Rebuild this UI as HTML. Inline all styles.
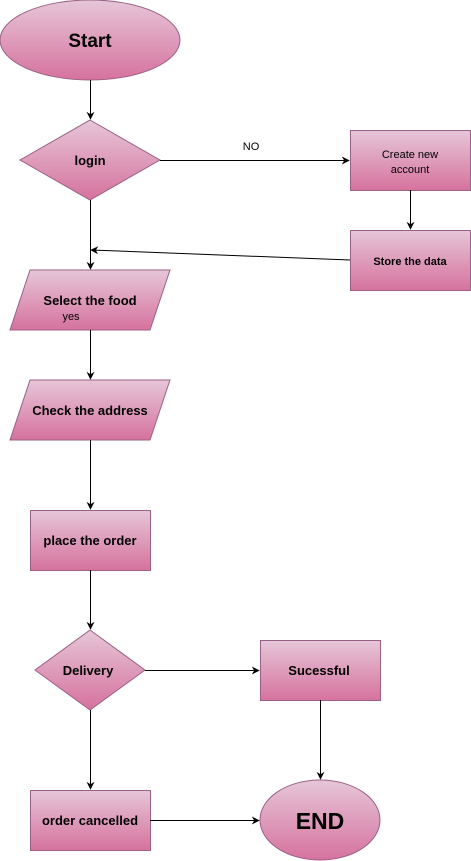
<!DOCTYPE html>
<html><head><meta charset="utf-8"><style>
html,body{margin:0;padding:0;background:#fff;}
svg{display:block;}
text{font-family:"Liberation Sans",Arial,sans-serif;fill:#000;}
.b{font-weight:bold;font-size:13px;}
</style></head><body>
<svg width="471" height="861" viewBox="0 0 471 861" xmlns="http://www.w3.org/2000/svg">
<defs>
<linearGradient id="g" x1="0" y1="0" x2="0" y2="1">
<stop offset="0" stop-color="#e6c6d8"/><stop offset="1" stop-color="#d6729e"/>
</linearGradient>
<marker id="a" viewBox="0 0 10 10" refX="9" refY="5" markerWidth="8" markerHeight="8" orient="auto" markerUnits="userSpaceOnUse">
<path d="M0,0 L10,5 L0,10 L3,5 z" fill="#000"/>
</marker>
</defs>
<g fill="url(#g)" stroke="#996185" stroke-width="1">
<ellipse cx="90" cy="40" rx="90" ry="40"/>
<polygon points="90,120 160,160 90,200 20,160"/>
<rect x="350.5" y="130.5" width="120" height="60"/>
<rect x="350.5" y="230.5" width="120" height="60"/>
<polygon points="30,270 170,270 150,330 10,330"/>
<polygon points="30,380 170,380 150,440 10,440"/>
<rect x="30.5" y="510.5" width="120" height="60"/>
<polygon points="90,630 145,670 90,710 35,670"/>
<rect x="260.5" y="640.5" width="120" height="60"/>
<rect x="30.5" y="790.5" width="120" height="60"/>
<ellipse cx="320" cy="820" rx="60" ry="40"/>
</g>
<g stroke="#000" stroke-width="1" fill="none" marker-end="url(#a)">
<line x1="90.5" y1="80" x2="90.5" y2="119"/>
<line x1="160" y1="160.5" x2="349" y2="160.5"/>
<line x1="410.5" y1="190" x2="410.5" y2="229"/>
<line x1="350" y1="260" x2="91" y2="250"/>
<line x1="90.5" y1="200" x2="90.5" y2="269"/>
<line x1="90.5" y1="330" x2="90.5" y2="379"/>
<line x1="90.5" y1="440" x2="90.5" y2="509"/>
<line x1="90.5" y1="570" x2="90.5" y2="629"/>
<line x1="145" y1="670.5" x2="259" y2="670.5"/>
<line x1="90.5" y1="710" x2="90.5" y2="789"/>
<line x1="320.5" y1="700" x2="320.5" y2="779"/>
<line x1="150" y1="820.5" x2="259" y2="820.5"/>
</g>
<g text-anchor="middle">
<text x="90" y="47" font-weight="bold" font-size="19">Start</text>
<text x="90" y="165" class="b">login</text>
<text x="410" y="158" font-size="11">Create new</text>
<text x="410" y="173" font-size="11">account</text>
<text x="410" y="265" font-size="11" font-weight="bold">Store the data</text>
<text x="90" y="305" class="b">Select the food</text>
<text x="71" y="320" font-size="11">yes</text>
<text x="90" y="415" class="b">Check the address</text>
<text x="90" y="545" class="b">place the order</text>
<text x="88" y="675" class="b">Delivery</text>
<text x="319" y="675" class="b">Sucessful</text>
<text x="90" y="825" class="b">order cancelled</text>
<text x="320" y="829" font-weight="bold" font-size="23">END</text>
<text x="251" y="150" font-size="11">NO</text>
</g>
</svg>
</body></html>
